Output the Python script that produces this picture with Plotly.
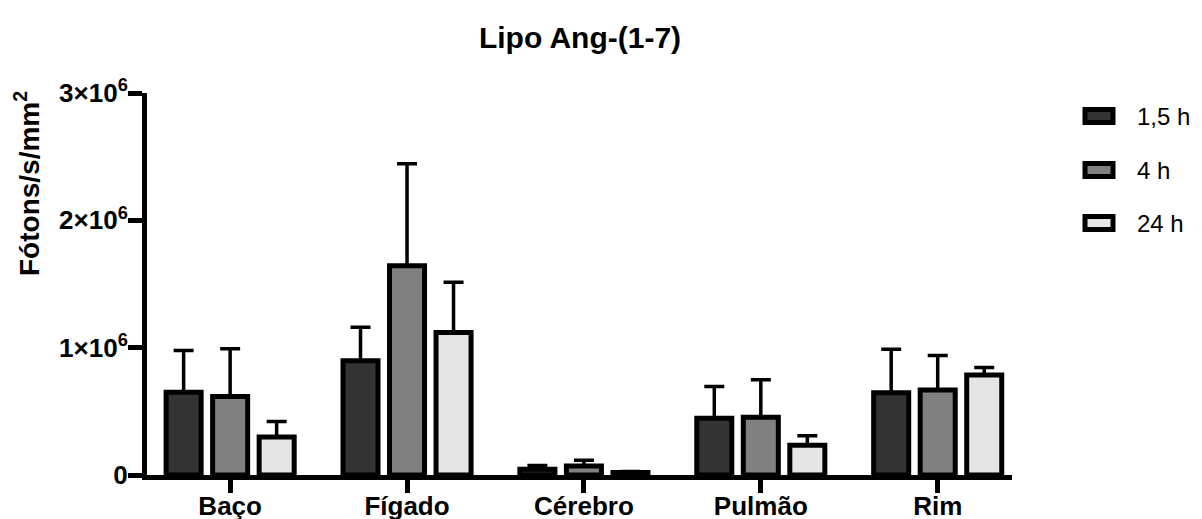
import plotly.graph_objects as go

categories = ["Baço", "Fígado", "Cérebro", "Pulmão", "Rim"]
series_names = ["1,5 h", "4 h", "24 h"]
mean_15h = [0.65e6, 0.898e6, 0.045e6, 0.446e6, 0.645e6]
mean_4h = [0.616e6, 1.643e6, 0.07e6, 0.454e6, 0.668e6]
mean_24h = [0.298e6, 1.12e6, 0.02e6, 0.233e6, 0.786e6]
sem_15h = [0.328e6, 0.263e6, 0.03e6, 0.25e6, 0.343e6]
sem_4h = [0.375e6, 0.802e6, 0.045e6, 0.294e6, 0.27e6]
sem_24h = [0.123e6, 0.393e6, 0.008e6, 0.076e6, 0.058e6]
y_ticks = [0, 1e6, 2e6, 3e6]

colors = ["#333333", "#808080", "#e5e5e5"]
means = [mean_15h, mean_4h, mean_24h]
sems = [sem_15h, sem_4h, sem_24h]

FONT = "Liberation Sans, Arial, sans-serif"

fig = go.Figure()
for name, m, s, c in zip(series_names, means, sems, colors):
    fig.add_trace(go.Bar(
        x=categories, y=m, name=name,
        marker=dict(color=c, line=dict(color="black", width=5)),
        error_y=dict(type="data", array=s, arrayminus=[0] * len(s), symmetric=False,
                     color="black", thickness=3.5, width=10),
        showlegend=False,
    ))

# plot area in pixels
W, H = 1202, 519
L, R, T, B = 147, 190, 93, 44
pw = W - L - R
ph = H - T - B


def px_x(x):
    return (x - L) / pw


def px_y(y):
    return (H - B - y) / ph


shapes = []
annotations = []
legend_y = [116, 170, 223]
for name, c, ly in zip(series_names, colors, legend_y):
    shapes.append(dict(type="rect", xref="paper", yref="paper",
                       x0=px_x(1085), x1=px_x(1113), y0=px_y(ly + 6.5), y1=px_y(ly - 6.5),
                       fillcolor=c, line=dict(color="black", width=5)))
    annotations.append(dict(text=name, xref="paper", yref="paper", x=px_x(1135), y=px_y(ly),
                            xanchor="left", yanchor="middle", showarrow=False,
                            font=dict(family=FONT, size=24, color="black")))

annotations.append(dict(text="<b>Fótons/s/mm<sup>2</sup></b>", xref="paper", yref="paper",
                        x=px_x(27), y=px_y(184), textangle=-90, xanchor="center", yanchor="middle",
                        showarrow=False, font=dict(family=FONT, size=28, color="black")))

fig.update_layout(
    width=W, height=H,
    template="none",
    paper_bgcolor="white", plot_bgcolor="white",
    margin=dict(l=L, r=R, t=T, b=B, pad=0),
    barmode="group", bargap=0.211, bargroupgap=0.247,
    title=dict(text="<b>Lipo Ang-(1-7)</b>", x=px_x(580), xref="paper", xanchor="center",
               y=1 - 37 / H, yref="container", yanchor="middle",
               font=dict(family=FONT, size=30, color="black")),
    showlegend=False,
    shapes=shapes,
    annotations=annotations,
    xaxis=dict(range=[-0.47, 4.42], showline=True, linecolor="black", linewidth=5,
               ticks="outside", ticklen=13, tickwidth=5, tickcolor="black",
               showgrid=False, zeroline=False, automargin=False, ticklabelstandoff=-9,
               tickfont=dict(family=FONT, size=26, color="black", weight="bold")),
    yaxis=dict(range=[0, 3e6], tickvals=y_ticks, exponentformat="power", showexponent="all",
               showline=True, linecolor="black", linewidth=5,
               ticks="outside", ticklen=14, tickwidth=5, tickcolor="black",
               showgrid=False, zeroline=False, automargin=False, ticklabelstandoff=-5,
               tickfont=dict(family=FONT, size=26, color="black", weight="bold")),
)

fig.write_html("out.html", post_script="document.body.style.margin='0';",
               config={"displayModeBar": False})
